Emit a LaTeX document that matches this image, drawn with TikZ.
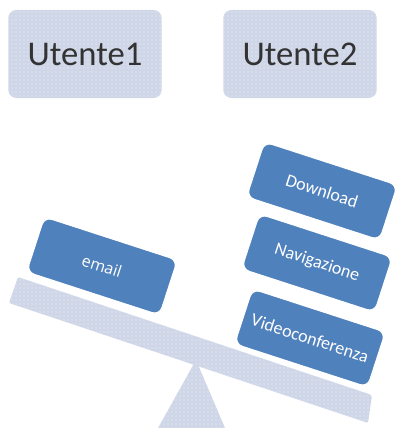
\documentclass[tikz,border=0pt]{standalone}
\usepackage{fontspec}
\setmainfont{Carlito}
\newfontfamily\emailfont{Open Sans}
\usetikzlibrary{patterns}

\definecolor{paleblue}{RGB}{207,214,231}
\definecolor{dotwhite}{RGB}{236,240,247}
\definecolor{loadblue}{RGB}{79,129,189}
\definecolor{usertext}{RGB}{51,51,51}

\tikzset{
  dotted fill/.style={fill=paleblue, postaction={pattern=dots, pattern color=dotwhite}},
  userbox/.style={dotted fill, rounded corners=6pt, minimum width=115pt, minimum height=66pt,
    text=usertext, font=\fontsize{26}{30}\selectfont},
  loadbox/.style={fill=loadblue, draw=white, line width=1pt, rounded corners=6pt, rotate=-18,
    minimum width=105pt, minimum height=43.5pt, text=white, font=\fontsize{13.5}{16}\selectfont}
}

\begin{document}
\begin{tikzpicture}[x=0.75pt, y=-0.75pt]
\useasboundingbox (0,0) rectangle (397,428);

% the two users
\node[userbox] (u1) at (85,54) {Utente1};
\node[userbox] (u2) at (300,54) {Utente2};

% fulcrum and plank of the scale
\coordinate (apex) at (196,360);
\draw[dotted fill, draw=none] (apex) -- (158,428) -- (225,428) -- cycle;

\coordinate (pTL) at (18,277);
\coordinate (pBL) at (9,303);
\coordinate (pTR) at (372,395);
\coordinate (pBR) at (368,423);
\draw[dotted fill, draw=none, rounded corners=1.5pt] (pTL) -- (pTR) -- (pBR) -- (pBL) -- cycle;

% the loads
\node[loadbox, font=\emailfont\fontsize{12}{14}\selectfont] (email) at (102,266) {email};
\node[loadbox] (down) at (322,191) {Download};
\node[loadbox] (navi) at (317,263) {Navigazione};
\node[loadbox] (video) at (310,338) {Videoconferenza};

\end{tikzpicture}
\end{document}
